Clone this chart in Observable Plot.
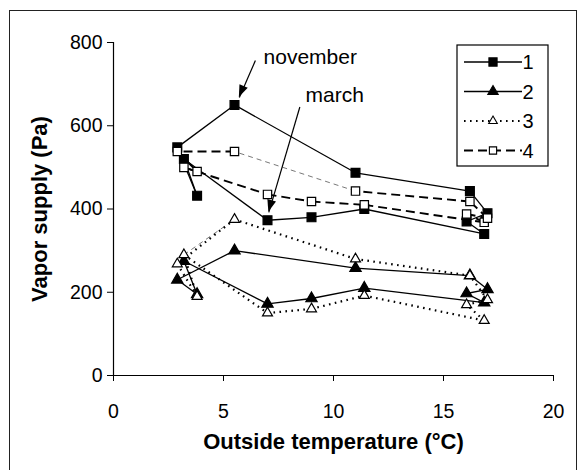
<!DOCTYPE html>
<html><head><meta charset="utf-8">
<script src="https://cdn.jsdelivr.net/npm/d3@7"></script>
<script src="https://cdn.jsdelivr.net/npm/@observablehq/plot@0.6"></script>
<style>
body{margin:0;background:#fff;}
#wrap{position:relative;width:584px;height:470px;overflow:hidden;background:#fff;}
#border{position:absolute;left:9px;top:10px;width:568px;height:480px;border:1.5px solid #222;box-sizing:border-box;}
#chart{position:absolute;left:0;top:0;}
</style></head><body><div id="wrap"><div id="border"></div><div id="chart"></div></div>
<script>
(function(){
// Months in measurement order (cycle), outside temperature per month
const months = ["Mar","Apr","May","Jun","Jul","Aug","Sep","Oct","Nov","Dec","Jan","Feb"];
const temps  = [7.0, 9.0, 11.4, 16.85, 16.05, 17.0, 16.2, 11.0, 5.5, 2.9, 3.8, 3.2];
const series1 = [373, 380, 400, 340, 370, 390, 443, 487, 650, 548, 432, 520];
const series2 = [172, 185, 210, 175, 197, 207, 240, 258, 300, 230, 195, 275];
const series3 = [150, 160, 192, 132, 170, 182, 240, 280, 375, 268, 190, 290];
const series4 = [435, 418, 410, 368, 388, 378, 418, 443, 538, 538, 490, 500];
const seriesNames = ["1", "2", "3", "4"];
// segments drawn thin grey (from month index -> to month index)
const thin3 = [[11, 8]];
const thin4 = [[7, 8]];
const xTicks = [0, 5, 10, 15, 20];
const yTicks = [0, 200, 400, 600, 800];
const annotText = ["november", "march"];
const annotX = [6.82, 8.73];
const annotY = [764, 673];
const arrowFrom = [[6.45, 757], [8.47, 645]];
const arrowTo = [[5.72, 668], [7.06, 392]];

const styles = [
  {dash: null, sw: 1.3, symbol: "square", fill: "#000", r: 5.0},
  {dash: null, sw: 1.3, symbol: "triangle", fill: "#000", r: 4.2},
  {dash: "1.6,4.4", sw: 2.2, symbol: "triangle", fill: "#fff", r: 3.7},
  {dash: "9,5", sw: 1.9, symbol: "square", fill: "#fff", r: 4.7}
];
const allSeries = [series1, series2, series3, series4];
const thinAll = [[], [], thin3, thin4];

const segs = [], thinSegs = [], pts = [];
allSeries.forEach((vals, s) => {
  const thinKeys = thinAll[s].map(d => d.join("-"));
  for (let i = 0; i < months.length; i++) {
    const j = (i + 1) % months.length;
    const seg = {s, x1: temps[i], y1: vals[i], x2: temps[j], y2: vals[j]};
    if (thinKeys.includes(i + "-" + j)) thinSegs.push(seg); else segs.push(seg);
    pts.push({s, x: temps[i], y: vals[i], m: months[i]});
  }
  thinAll[s].forEach(([a, b]) => {
    if (b !== (a + 1) % months.length)
      thinSegs.push({s, x1: temps[a], y1: vals[a], x2: temps[b], y2: vals[b]});
  });
});

const linkMarks = styles.map((st, s) => Plot.link(segs.filter(d => d.s === s), {
  x1: "x1", y1: "y1", x2: "x2", y2: "y2", stroke: "#000", strokeWidth: st.sw,
  strokeDasharray: st.dash, strokeLinecap: "butt"
}));
const thinMarks = [Plot.link(thinSegs, {
  x1: "x1", y1: "y1", x2: "x2", y2: "y2", stroke: "#555", strokeWidth: 0.8, strokeDasharray: "5,4"
})];
const dotMarks = styles.map((st, s) => Plot.dot(pts.filter(d => d.s === s), {
  x: "x", y: "y", symbol: st.symbol, r: st.r, fill: st.fill, stroke: "#000", strokeWidth: 1.2
}));

const font = "Liberation Sans, Arial, Helvetica, sans-serif";
const plot = Plot.plot({
  width: 584, height: 470,
  marginLeft: 113, marginRight: 31, marginTop: 42, marginBottom: 95,
  style: {fontFamily: font, fontSize: "19px", color: "#000", background: "transparent", overflow: "visible"},
  x: {domain: [0, 20], label: null},
  y: {domain: [0, 800], label: null},
  marks: [
    Plot.axisX({ticks: xTicks, tickSize: 6, tickPadding: 23, fontSize: 19.5, label: null, stroke: "#000"}),
    Plot.axisY({ticks: yTicks, tickSize: 6, tickPadding: 5, fontSize: 19.5, label: null, stroke: "#000"}),
    Plot.ruleX([0], {stroke: "#000", strokeWidth: 1.2}),
    Plot.ruleY([0], {stroke: "#000", strokeWidth: 1.2}),
    ...thinMarks,
    ...linkMarks,
    ...dotMarks,
    Plot.link(arrowFrom.map((f, i) => ({x1: f[0], y1: f[1], x2: arrowTo[i][0], y2: arrowTo[i][1]})),
      {x1: "x1", y1: "y1", x2: "x2", y2: "y2", stroke: "#000", strokeWidth: 1.2}),
    Plot.text(annotText, {x: (d, i) => annotX[i], y: (d, i) => annotY[i], text: d => d,
      textAnchor: "start", fontSize: 21, fill: "#000"}),
    Plot.text(["Outside temperature (°C)"], {frameAnchor: "bottom", dy: 73, textAnchor: "middle", fontWeight: "bold", fontSize: 22, fill: "#000"}),
    Plot.text(["Vapor supply (Pa)"], {frameAnchor: "left", dx: -74, rotate: -90, textAnchor: "middle", fontWeight: "bold", fontSize: 22, fill: "#000"})
  ]
});
document.getElementById("chart").appendChild(plot);

// arrowheads and legend, positioned through the plot's own scales
const sx = plot.scale("x"), sy = plot.scale("y");
const svg = d3.select(plot);
arrowFrom.forEach((f, i) => {
  const x1 = sx.apply(f[0]), y1 = sy.apply(f[1]);
  const x2 = sx.apply(arrowTo[i][0]), y2 = sy.apply(arrowTo[i][1]);
  const a = Math.atan2(y2 - y1, x2 - x1), L = 12, W = 4.5;
  const bx = x2 - L * Math.cos(a), by = y2 - L * Math.sin(a);
  const px = -Math.sin(a) * W, py = Math.cos(a) * W;
  svg.append("polygon").attr("points", `${x2},${y2} ${bx + px},${by + py} ${bx - px},${by - py}`).attr("fill", "#000");
});

const frameRight = sx.apply(20), frameTop = sy.apply(800);
const lg = svg.append("g").attr("transform", `translate(${frameRight - 96},${frameTop + 3})`);
lg.append("rect").attr("x", 0).attr("y", 0).attr("width", 91).attr("height", 121)
  .attr("fill", "#fff").attr("stroke", "#000").attr("stroke-width", 1.2);
seriesNames.forEach((name, s) => {
  const st = styles[s], yy = 17 + s * 29.5;
  lg.append("line").attr("x1", 7).attr("x2", 65).attr("y1", yy).attr("y2", yy)
    .attr("stroke", "#000").attr("stroke-width", st.sw).attr("stroke-dasharray", st.dash);
  const sym = st.symbol === "square" ? d3.symbolSquare : d3.symbolTriangle;
  const size = Math.PI * (s < 2 ? st.r * st.r * 0.85 : st.r * st.r * 0.75);
  lg.append("path").attr("d", d3.symbol(sym, size)()).attr("transform", `translate(36,${yy})`)
    .attr("fill", st.fill).attr("stroke", "#000").attr("stroke-width", 1.1);
  lg.append("text").attr("x", 71).attr("y", yy).attr("dy", "0.35em").attr("font-size", 20)
    .attr("font-family", font).text(name);
});
})();
</script></body></html>
